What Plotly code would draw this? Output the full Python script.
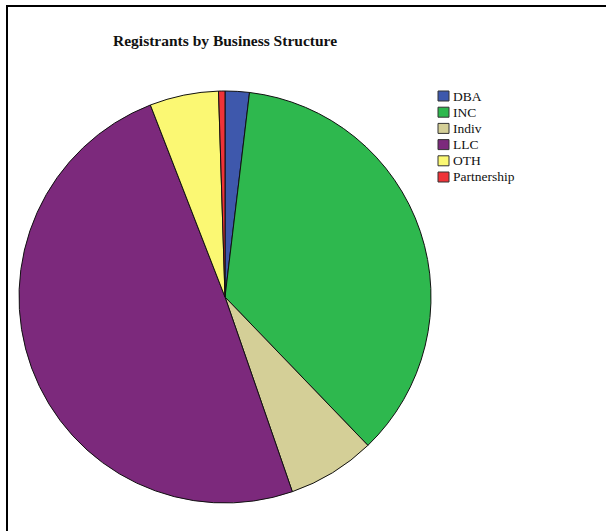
import plotly.graph_objects as go

# Registrant counts by business structure
categories = ["DBA", "INC", "Indiv", "LLC", "OTH", "Partnership"]
registrants = [19, 359, 69, 494, 54, 5]
colors = ["#3E58AC", "#2EB84E", "#D4CF97", "#7C297C", "#FBF873", "#EF3338"]

W, H = 606, 531


def px(x):
    return x / W


def py(y):
    return 1 - y / H


# pie placement (pixels)
cx, cy, r = 225, 297, 206

fig = go.Figure()
fig.add_trace(go.Pie(
    labels=categories,
    values=registrants,
    marker=dict(colors=colors, line=dict(color="#111111", width=1)),
    sort=False,
    direction="clockwise",
    rotation=0,
    textinfo="none",
    showlegend=False,
    domain=dict(x=[px(cx - r), px(cx + r)], y=[py(cy + r), py(cy - r)]),
))

shapes = [
    # chart frame
    dict(type="line", xref="paper", yref="paper", x0=px(7), x1=px(7), y0=py(5), y1=py(540),
         line=dict(color="black", width=2)),
    dict(type="line", xref="paper", yref="paper", x0=px(6), x1=px(620), y0=py(6), y1=py(6),
         line=dict(color="black", width=2)),
]
annotations = [
    dict(text="<b>Registrants by Business Structure</b>", xref="paper", yref="paper",
         x=px(225), y=py(40), xanchor="center", yanchor="middle", showarrow=False,
         font=dict(family="Liberation Serif", size=15.5, color="#111111")),
]

# legend keys
for i, (lab, col) in enumerate(zip(categories, colors)):
    yc = 96 + i * 16.2
    shapes.append(dict(type="rect", xref="paper", yref="paper",
                       x0=px(438), x1=px(449), y0=py(yc + 5), y1=py(yc - 5),
                       fillcolor=col, line=dict(color="#333333", width=1)))
    annotations.append(dict(text=lab, xref="paper", yref="paper", x=px(451), y=py(yc),
                            xanchor="left", yanchor="middle", showarrow=False,
                            font=dict(family="Liberation Serif", size=13.5, color="#111111")))

fig.update_layout(
    width=W, height=H, autosize=False,
    margin=dict(l=0, r=0, t=0, b=0),
    paper_bgcolor="white", plot_bgcolor="white",
    shapes=shapes, annotations=annotations,
)

fig.write_html("out.html")
